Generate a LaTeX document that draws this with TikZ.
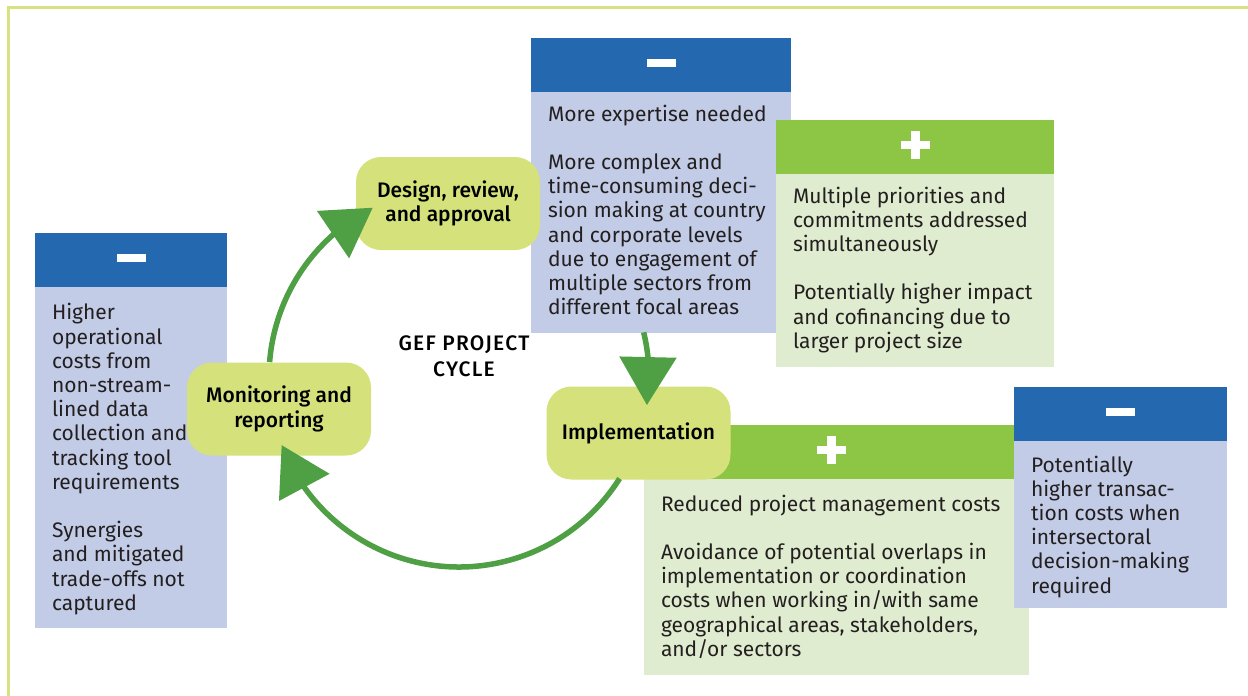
\documentclass[tikz,border=0pt]{standalone}
\usepackage{fontspec}
\setmainfont{Fira Sans}[BoldFont={Fira Sans Medium}]
\usetikzlibrary{arrows.meta,bending,calc}
\definecolor{hdrblue}{HTML}{2469B0}
\definecolor{bodyblue}{HTML}{C2CCE6}
\definecolor{hdrgreen}{HTML}{8DC545}
\definecolor{bodygreen}{HTML}{E0ECCF}
\definecolor{stepfill}{HTML}{D5E17A}
\definecolor{arrowgreen}{HTML}{4F9F45}
\definecolor{framecol}{HTML}{D6E37E}
\definecolor{txtcol}{HTML}{231F20}
\begin{document}
\begin{tikzpicture}[x=1pt,y=-1pt,
  every node/.style={inner sep=0pt, outer sep=0pt},
  hdrB/.style={fill=hdrblue, anchor=north west, minimum height=54pt},
  hdrG/.style={fill=hdrgreen, anchor=north west, minimum height=54pt},
  bodyB/.style={fill=bodyblue, anchor=north west},
  bodyG/.style={fill=bodygreen, anchor=north west},
  signbar/.style={fill=white, minimum width=29pt, minimum height=8pt},
  signvbar/.style={fill=white, minimum width=9pt, minimum height=28pt},
  txt/.style={anchor=north west, align=left, text=txtcol,
    font=\fontsize{21}{24.2}\selectfont},
  stepbox/.style={fill=stepfill, rounded corners=25pt, minimum width=184pt,
    minimum height=93pt, align=center, text=black,
    font=\fontsize{21}{24.2}\selectfont\bfseries},
  cyc/.style={draw=arrowgreen, line width=5.5pt,
    -{Triangle[length=48pt,width=56pt,flex]}},
]
\useasboundingbox (0,0) rectangle (1248,696);
% frame
\draw[framecol, line width=3pt] (8.5,696) -- (8.5,7.5) -- (1248,7.5);

% left box
\node[hdrB, minimum width=192pt] (lh) at (35,233) {};
\node[bodyB, minimum width=192pt, minimum height=341pt] (lb) at (35,287) {};
\node[signbar, yshift=2pt] (lsign) at (lh.center) {};
\node[txt] (lt) at (52,303) {\strut Higher\\operational\\costs from\\non-stream-\\lined data\\collection and\\tracking tool\\requirements\\[24.2pt]Synergies\\and mitigated\\trade-offs not\\captured};

% top blue box
\node[hdrB, minimum width=260pt] (th) at (531,38) {};
\node[bodyB, minimum width=260pt, minimum height=241pt] (tb) at (531,92) {};
\node[signbar, yshift=2pt] (tsign) at (th.center) {};
\node[txt] (tt) at (548,104.1) {\strut More expertise needed\\[24.2pt]More complex and\\time-consuming deci-\\sion making at country\\and corporate levels\\due to engagement of\\multiple sectors from\\different focal areas};

% top green box
\node[hdrG, minimum width=278pt] (gh) at (776,120) {};
\node[bodyG, minimum width=278pt, minimum height=193pt] (gb) at (776,174) {};
\node[signbar, yshift=2pt] (gsignh) at (gh.center) {};
\node[signvbar, yshift=2pt] (gsignv) at (gh.center) {};
\node[txt] (gt) at (793,186.1) {\strut Multiple priorities and\\commitments addressed\\simultaneously\\[24.2pt]Potentially higher impact\\and cofinancing due to\\larger project size};

% bottom green box
\node[hdrG, minimum width=385pt] (bh) at (644,425) {};
\node[bodyG, minimum width=385pt, minimum height=196pt] (bb) at (644,479) {};
\node[signbar, yshift=2pt] (bsignh) at ([xshift=-5pt]bh.center) {};
\node[signvbar, yshift=2pt] (bsignv) at ([xshift=-5pt]bh.center) {};
\node[txt] (bt) at (661,494.1) {\strut Reduced project management costs\\[24.2pt]Avoidance of potential overlaps in\\implementation or coordination\\costs when working in/with same\\geographical areas, stakeholders,\\and/or sectors};

% right blue box
\node[hdrB, minimum width=213pt] (rh) at (1014,387) {};
\node[bodyB, minimum width=213pt, minimum height=167pt] (rb) at (1014,441) {};
\node[signbar, yshift=2pt] (rsign) at (rh.center) {};
\node[txt] (rt) at (1031,455.1) {\strut Potentially\\higher transac-\\tion costs when\\intersectoral\\decision-making\\required};

% cycle steps
\node[stepbox] (design) at (448,203.5) {Design, review,\\and approval};
\node[stepbox] (monitor) at (279,409) {Monitoring and\\reporting};
\node[stepbox] (impl) at (638.5,433) {Implementation};
\node[align=center, text=black, font=\fontsize{21}{26}\selectfont\bfseries\addfontfeature{LetterSpace=6}] (gef) at (464,356) {GEF PROJECT\\CYCLE};

% cycle arrows
\coordinate (c) at (459,377);
\coordinate (s1) at ($(c)+(184.5:190)$);
\coordinate (s2) at ($(c)+(346.4:190)$);
\coordinate (s3) at ($(c)+(32.3:190)$);
\draw[cyc] (s1) arc[start angle=184.5, end angle=243, radius=190];
\draw[cyc] (s2) arc[start angle=346.4, end angle=368.5, radius=190];
\draw[cyc] (s3) arc[start angle=32.3, end angle=159, radius=190];
\end{tikzpicture}
\end{document}
